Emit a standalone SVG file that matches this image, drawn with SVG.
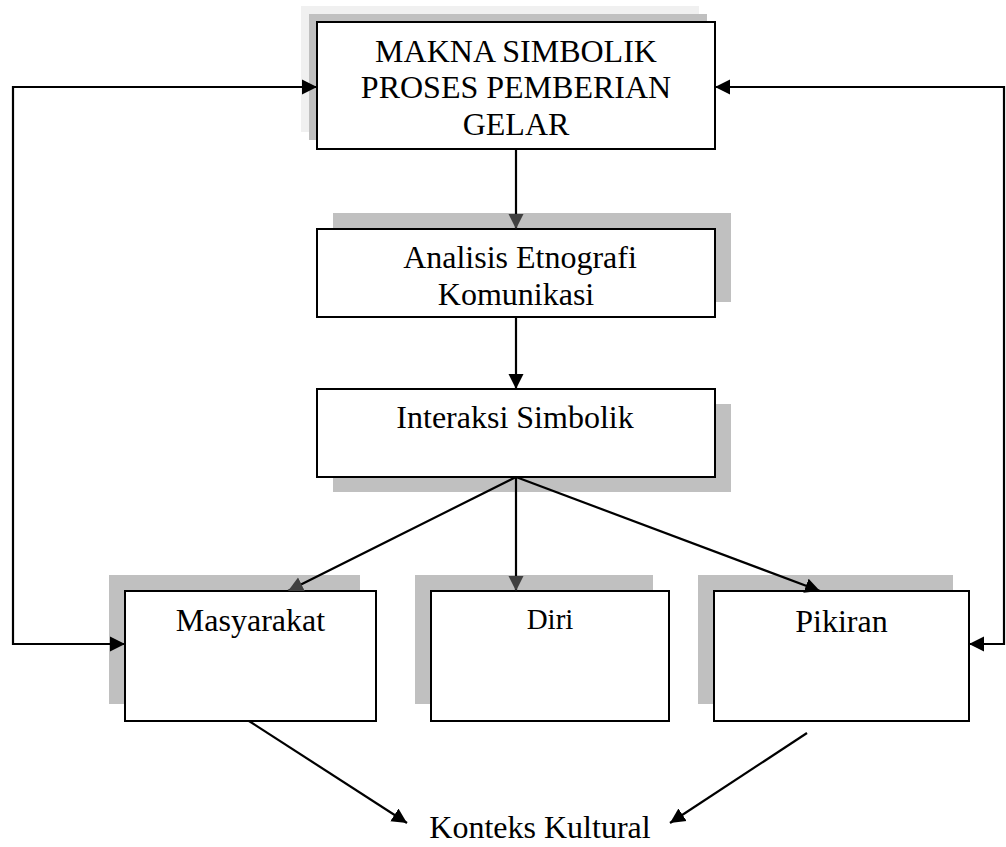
<svg xmlns="http://www.w3.org/2000/svg" width="1006" height="847" viewBox="0 0 1006 847">
<style>
.box{fill:#fff;stroke:#000;stroke-width:2}
.sh{fill:#c0c0c0}
.sh2{fill:#f0f0f0}
.t{font-family:"Liberation Serif","Times New Roman",serif;font-size:32px;fill:#000;text-anchor:middle}
.c{fill:none;stroke:#000;stroke-width:2.2}
</style>
<defs>
<marker id="ah" markerUnits="userSpaceOnUse" markerWidth="16" markerHeight="16" refX="15" refY="7.5" orient="auto" viewBox="0 0 16 15">
<path d="M0,0 L15,7.5 L0,15 z" fill="#000"/>
</marker>
<marker id="ahg" markerUnits="userSpaceOnUse" markerWidth="16" markerHeight="16" refX="15" refY="7.5" orient="auto" viewBox="0 0 16 15">
<path d="M0,0 L15,7.5 L0,15 z" fill="#404040"/>
</marker>
</defs>
<rect width="1006" height="847" fill="#fff"/>
<g id="node-makna">
<rect class="sh2" x="301" y="6" width="398" height="126"/>
<rect class="sh" x="309" y="14" width="398" height="126"/>
<rect class="box" x="317" y="22" width="398" height="127"/>
<text class="t" x="516" y="62">MAKNA SIMBOLIK</text>
<text class="t" x="516" y="98">PROSES PEMBERIAN</text>
<text class="t" x="516" y="135">GELAR</text>
</g>
<g id="node-analisis">
<rect class="sh" x="333" y="213" width="398" height="89"/>
<rect class="box" x="317" y="229" width="398" height="88"/>
<text class="t" x="520" y="268">Analisis Etnografi</text>
<text class="t" x="516" y="305">Komunikasi</text>
</g>
<g id="node-interaksi">
<rect class="sh" x="333" y="404" width="398" height="88"/>
<rect class="box" x="317" y="389" width="398" height="88"/>
<text class="t" x="515" y="428">Interaksi Simbolik</text>
</g>
<g id="node-masyarakat">
<rect class="sh" x="109" y="575" width="251" height="129"/>
<rect class="box" x="125" y="591" width="251" height="130"/>
<text class="t" x="250.5" y="631">Masyarakat</text>
</g>
<g id="node-diri">
<rect class="sh" x="415" y="575" width="238" height="129"/>
<rect class="box" x="431" y="591" width="238" height="130"/>
<text class="t" x="550" y="629" style="font-size:29px">Diri</text>
</g>
<g id="node-pikiran">
<rect class="sh" x="698" y="575" width="255" height="129"/>
<rect class="box" x="714" y="591" width="255" height="130"/>
<text class="t" x="841.5" y="632">Pikiran</text>
</g>
<g id="node-konteks">
<text class="t" x="540" y="838">Konteks Kultural</text>
</g>
<g id="connectors">
<path class="c" d="M516,149 V229" marker-end="url(#ahg)"/>
<path class="c" d="M516,317 V389" marker-end="url(#ah)"/>
<path class="c" d="M516,477 L288,591" marker-end="url(#ahg)"/>
<path class="c" d="M516,477 V591" marker-end="url(#ahg)"/>
<path class="c" d="M516,477 L820,591" marker-end="url(#ah)"/>
<path class="c" d="M249,721 L407,823" marker-end="url(#ah)"/>
<path class="c" d="M807,733 L670,823" marker-end="url(#ah)"/>
<path class="c" d="M13,87 H317" marker-end="url(#ah)"/>
<path class="c" d="M13,86 V644 H125" marker-end="url(#ah)"/>
<path class="c" d="M1004,87 H715" marker-end="url(#ah)"/>
<path class="c" d="M1004,86 V644 H969" marker-end="url(#ah)"/>
</g>
</svg>
